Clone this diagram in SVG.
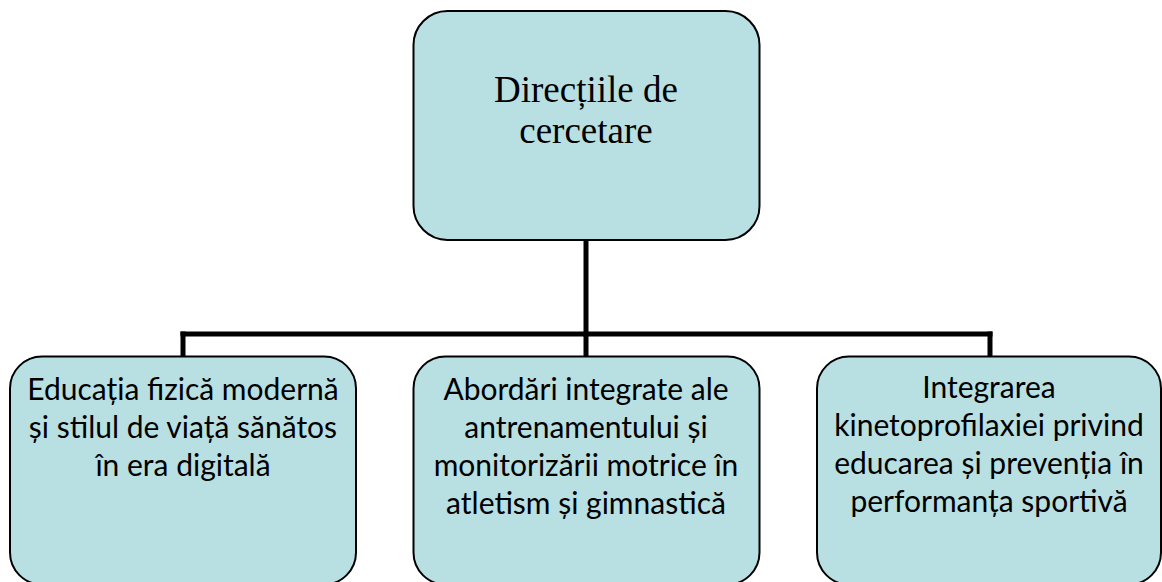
<svg xmlns="http://www.w3.org/2000/svg" width="1162" height="582" viewBox="0 0 1162 582">
<style>
.box{fill:#B8DFE2;stroke:#000;stroke-width:2}
.conn{fill:none;stroke:#000;stroke-width:5;stroke-linecap:square}
.t1{font-family:"Liberation Serif",serif;font-size:37px;fill:#000;text-anchor:middle}
.t2{font-family:"Lato","Liberation Sans",sans-serif;font-size:30px;fill:#000;text-anchor:middle}
</style>
<rect width="1162" height="582" fill="#fff"/>
<g id="connectors">
<line class="conn" x1="586" y1="241" x2="586" y2="334"/>
<line class="conn" x1="183" y1="334" x2="990" y2="334"/>
<line class="conn" x1="183" y1="334" x2="183" y2="356"/>
<line class="conn" x1="586" y1="334" x2="586" y2="356"/>
<line class="conn" x1="990" y1="334" x2="990" y2="356"/>
</g>
<g id="root">
<rect class="box" x="413.5" y="11" width="346" height="229" rx="34" ry="34"/>
<text class="t1" x="586" y="102">Direcțiile de</text>
<text class="t1" x="586" y="143">cercetare</text>
</g>
<g id="n1">
<rect class="box" x="10" y="356.5" width="346" height="228" rx="32" ry="32"/>
<text class="t2" x="183" y="400">Educația fizică modernă</text>
<text class="t2" x="183" y="438">și stilul de viață sănătos</text>
<text class="t2" x="183" y="476">în era digitală</text>
</g>
<g id="n2">
<rect class="box" x="413.5" y="356.5" width="346" height="228" rx="32" ry="32"/>
<text class="t2" x="586" y="400">Abordări integrate ale</text>
<text class="t2" x="586" y="438">antrenamentului și</text>
<text class="t2" x="586" y="476">monitorizării motrice în</text>
<text class="t2" x="586" y="514">atletism și gimnastică</text>
</g>
<g id="n3">
<rect class="box" x="817" y="356.5" width="344" height="228" rx="32" ry="32"/>
<text class="t2" x="989" y="398">Integrarea</text>
<text class="t2" x="989" y="436">kinetoprofilaxiei privind</text>
<text class="t2" x="989" y="474">educarea și prevenția în</text>
<text class="t2" x="989" y="512">performanța sportivă</text>
</g>
</svg>
